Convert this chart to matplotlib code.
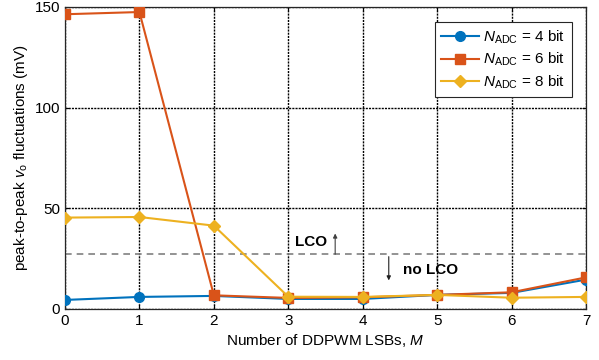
import numpy as np
import matplotlib
matplotlib.use('Agg')
import matplotlib.pyplot as plt

plt.rcParams['font.family'] = ['Liberation Sans', 'DejaVu Sans']
plt.rcParams['mathtext.fontset'] = 'custom'
plt.rcParams['mathtext.rm'] = 'Liberation Sans'
plt.rcParams['mathtext.it'] = 'Liberation Sans:italic'
plt.rcParams['mathtext.bf'] = 'Liberation Sans:bold'

# data
m_lsbs = [0, 1, 2, 3, 4, 5, 6, 7]
adc_4bit = [4.5, 6.0, 6.5, 5.0, 5.0, 7.0, 8.0, 14.6]
adc_6bit = [146.4, 147.5, 6.8, 5.5, 5.8, 7.0, 8.3, 15.7]
adc_8bit = [45.4, 45.7, 41.4, 6.1, 6.0, 7.0, 5.6, 6.0]
lco_threshold = 27.2

fig = plt.figure(figsize=(5.99, 3.6), dpi=100)
ax = fig.add_axes([65 / 599, 1 - 309 / 360, (586 - 65) / 599, (309 - 7) / 360])

ax.plot(m_lsbs, adc_4bit, '-o', color='#0072BD', lw=1.5, ms=7,
        label=r'$N_{\mathrm{ADC}}$ = 4 bit', zorder=3)
ax.plot(m_lsbs, adc_6bit, '-s', color='#D95319', lw=1.5, ms=6.5,
        label=r'$N_{\mathrm{ADC}}$ = 6 bit', zorder=3)
ax.plot(m_lsbs, adc_8bit, '-D', color='#EDB120', lw=1.5, ms=6.5,
        label=r'$N_{\mathrm{ADC}}$ = 8 bit', zorder=3)

ax.axhline(lco_threshold, color='#808080', ls=(0, (4, 3)), lw=1.2, zorder=2)

ax.text(3.3, 33.5, 'LCO', fontsize=11, fontweight='bold', ha='center', va='center')
ax.annotate('', xy=(3.63, 37.5), xytext=(3.63, 27.2),
            arrowprops=dict(arrowstyle='-|>', color='#404040', lw=0.8,
                            mutation_scale=6, shrinkA=0, shrinkB=0))
ax.annotate('', xy=(4.35, 14.2), xytext=(4.35, 26),
            arrowprops=dict(arrowstyle='-|>', color='#202020', lw=0.8,
                            mutation_scale=6, shrinkA=0, shrinkB=0))
ax.text(4.54, 19.5, 'no LCO', fontsize=11, fontweight='bold', ha='left', va='center')

ax.set_xlim(0, 7)
ax.set_ylim(0, 150)
ax.set_xticks(m_lsbs)
ax.set_yticks([0, 50, 100, 150])
ax.tick_params(direction='in', labelsize=11, length=3, width=0.8, top=True, right=True)
ax.grid(True, color='black', ls=(0, (1.5, 0.8)), lw=1.0)
for s in ax.spines.values():
    s.set_linewidth(0.9)
    s.set_color('#262626')

ax.set_xlabel(r'Number of DDPWM LSBs, $M$', fontsize=11, labelpad=3)
ax.set_ylabel(r'peak-to-peak $v_{\mathrm{o}}$ fluctuations (mV)', fontsize=11, labelpad=3)

leg = ax.legend(loc='upper right', fontsize=11, fancybox=False, framealpha=1,
                edgecolor='#262626', borderpad=0.4, handlelength=2.5,
                handletextpad=0.3, labelspacing=0.35,
                bbox_to_anchor=(0.987, 0.975))
leg.get_frame().set_linewidth(0.8)

fig.savefig('out.png', dpi=100)
